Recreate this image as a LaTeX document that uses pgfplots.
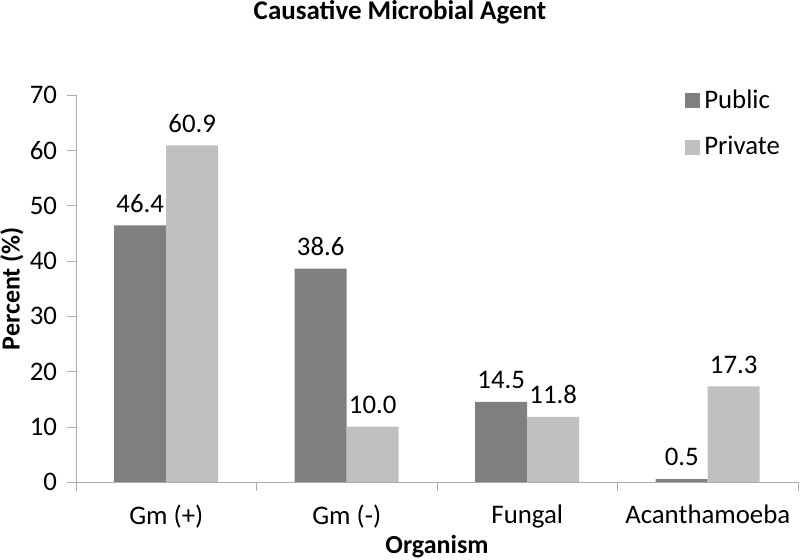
\documentclass[border=0pt]{standalone}
\usepackage{pgfplots}
\pgfplotsset{compat=1.18}
\usepackage{fontspec}
\setmainfont{Carlito}
\definecolor{pubcol}{HTML}{7F7F7F}
\definecolor{privcol}{HTML}{C0C0C0}
\definecolor{axcol}{HTML}{ADADAD}
\begin{document}
\begin{tikzpicture}
% 1px = 0.5pt, axis origin at pixel (76,482)
\useasboundingbox (-38pt,-39pt) rectangle (362pt,241pt);
\begin{axis}[
    at={(0,0)}, anchor=south west,
    scale only axis,
    width=361pt, height=193.5pt,
    ybar=0pt, bar width=26pt,
    xmin=-0.5, xmax=3.5,
    ymin=0, ymax=70,
    ytick={0,10,...,70},
    xtick={-0.5,0.5,1.5,2.5,3.5},
    xticklabels={},
    extra x ticks={0,1,2,3},
    extra x tick labels={Gm (+), Gm (-), Fungal, Acanthamoeba},
    extra x tick style={major tick length=0pt},
    axis x line=bottom, axis y line=left,
    axis line style={axcol, -},
    tick align=outside,
    major tick length=4.5pt,
    tick style={axcol},
    ticklabel style={font=\fontsize{13.4}{16}\selectfont},
    xticklabel style={yshift=-8pt},
    yticklabel style={xshift=-1.5pt},
    /pgf/number format/assume math mode=true,
    title={\bfseries Causative Microbial Agent},
    title style={at={(0.5,1)}, anchor=center, xshift=-18.5pt, yshift=35.5pt,
        font=\fontsize{13.5}{16}\selectfont},
    xlabel={\bfseries Organism},
    ylabel={\bfseries Percent (\%)},
    label style={font=\fontsize{13}{15}\selectfont},
    xlabel style={at={(0.5,0)}, anchor=center, yshift=-32.5pt},
    ylabel style={at={(0,0.5)}, anchor=center, yshift=32pt},
    nodes near coords,
    nodes near coords style={font=\fontsize{13.4}{16}\selectfont, black, yshift=3pt,
        /pgf/number format/.cd, fixed, fixed zerofill, precision=1, assume math mode=true},
    legend style={at={(0.835,1.035)}, anchor=north west, draw=none, fill=none,
        font=\fontsize{13.4}{16}\selectfont, row sep=8.5pt,
        /tikz/every even column/.append style={column sep=2pt}},
    legend cell align=left,
    legend image code/.code={\fill[#1] (0pt,-3.75pt) rectangle (7.5pt,3.75pt);},
]
\addplot[fill=pubcol, draw=none] coordinates {(0,46.4) (1,38.6) (2,14.5) (3,0.5)};
\addplot[fill=privcol, draw=none] coordinates {(0,60.9) (1,10.0) (2,11.8) (3,17.3)};
\legend{Public, Private}
\end{axis}
\end{tikzpicture}
\end{document}
